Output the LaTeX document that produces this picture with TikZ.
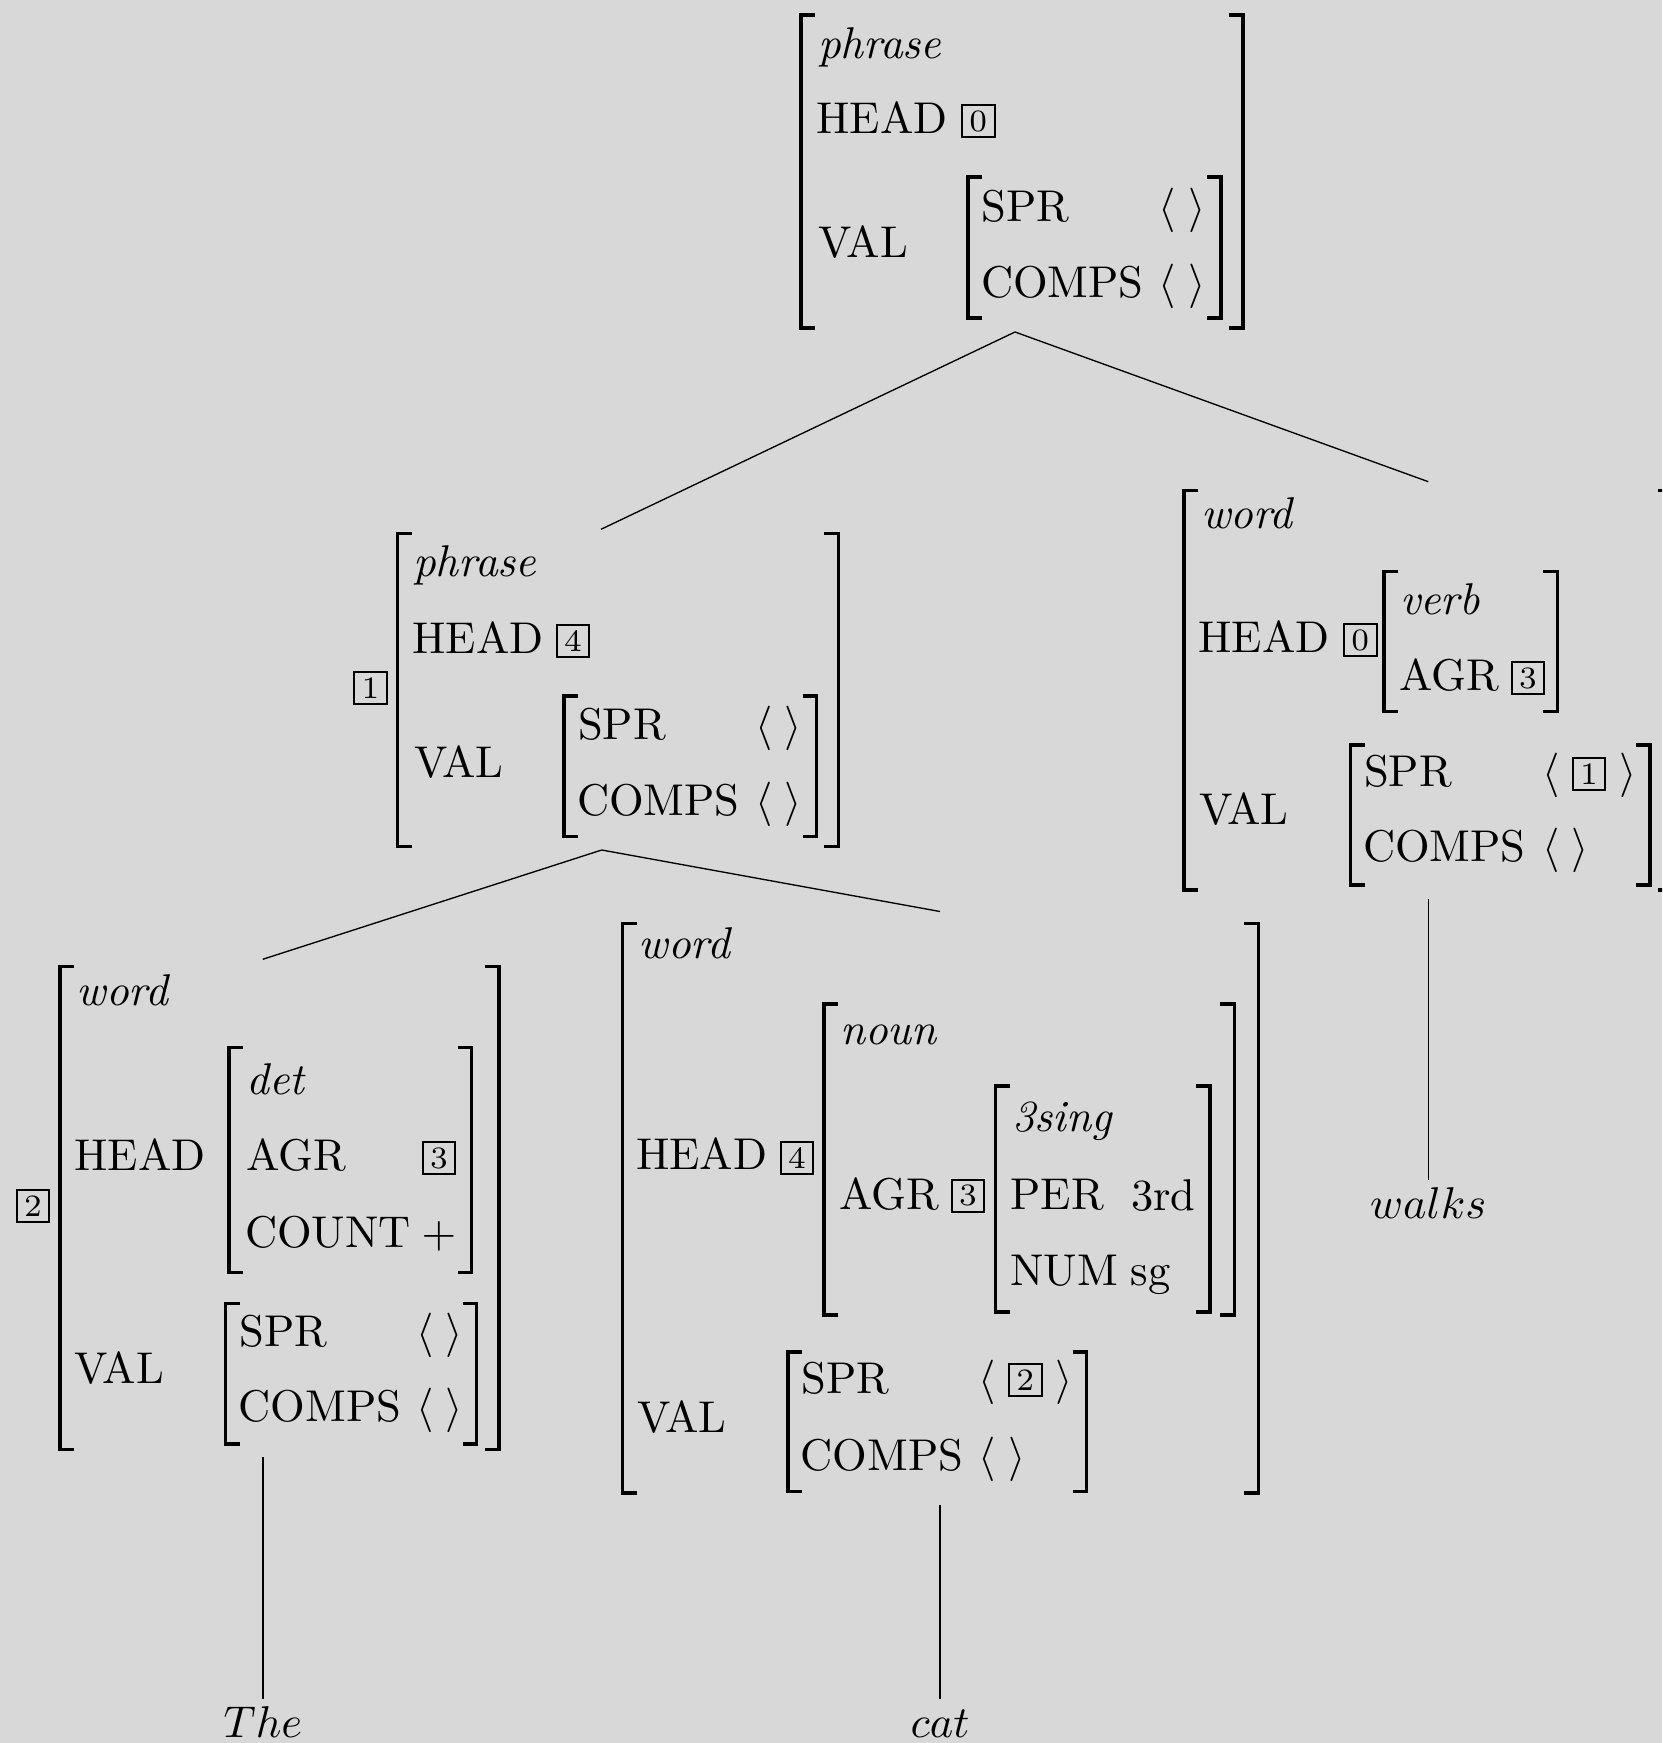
\documentclass[tikz,border=0pt]{standalone}
\usepackage{tikz}
\definecolor{bgc}{HTML}{D8D8D8}
\tikzset{
  txt/.style={anchor=base west, inner sep=0pt, outer sep=0pt, font=\normalsize},
  tagbox/.style={draw, line width=0.45pt, inner sep=0pt, outer sep=0pt, minimum width=7.3pt, minimum height=7.2pt, font=\scriptsize, anchor=south west},
  brk/.style={line width=0.78pt, line join=miter, line cap=butt},
  edge/.style={line width=0.3pt},
  leaf/.style={anchor=base, inner sep=1.4pt, text height=6.94pt}
}
\newcommand\avtext[4]{\node[txt] (#1) at (#2,#3) {#4};}
\newcommand\avtag[4]{\node[tagbox] (#1) at (#2,#3) {#4};}
\newcommand\lbrk[3]{\draw[brk] (#1+14,#2) -- (#1,#2) -- (#1,#3) -- (#1+14,#3);}
\newcommand\rbrk[3]{\draw[brk] (#1-14,#2) -- (#1,#2) -- (#1,#3) -- (#1-14,#3);}
\begin{document}
\begin{tikzpicture}[x=0.2247pt, y=-0.2247pt]
\path[use as bounding box] (0,0) rectangle (1662,1743);
\fill[bgc] (0,0) rectangle (1662,1743);
\clip (0,0) rectangle (1662,1743);

% ---- top AVM (phrase)
\lbrk{801}{15}{328} \rbrk{1243}{15}{328}
\avtext{T-type}{818}{59}{\textit{phrase}}
\avtext{T-head}{816.5}{134}{HEAD}
\avtag{T-b0}{962}{137}{0}
\avtext{T-val}{818.5}{258}{VAL}
\lbrk{968}{177}{318} \rbrk{1221}{177}{318}
\avtext{T-spr}{981.5}{222}{SPR}
\avtext{T-spr-v}{1158.7}{222}{$\langle\;\rangle$}
\avtext{T-comps}{981}{297}{COMPS}
\avtext{T-comps-v}{1158.7}{297}{$\langle\;\rangle$}

% ---- phrase AVM (The cat)
\avtag{P-tag}{354.3}{704}{1}
\lbrk{397.5}{533.3}{846.7} \rbrk{838.3}{533.3}{846.7}
\avtext{P-type}{413}{576}{\textit{phrase}}
\avtext{P-head}{412.5}{653.3}{HEAD}
\avtag{P-b4}{556.7}{656.7}{4}
\avtext{P-val}{414}{777.3}{VAL}
\lbrk{564}{696}{836.7} \rbrk{816.7}{696}{836.7}
\avtext{P-spr}{578}{739.3}{SPR}
\avtext{P-spr-v}{755.3}{739.3}{$\langle\;\rangle$}
\avtext{P-comps}{577}{815}{COMPS}
\avtext{P-comps-v}{755.3}{815}{$\langle\;\rangle$}

% ---- word AVM (walks)
\lbrk{1184}{490.7}{890} \rbrk{1672}{490.7}{890}
\avtext{W-type}{1201}{528.3}{\textit{word}}
\avtext{W-head}{1198.5}{652.7}{HEAD}
\avtag{W-b0}{1344}{656}{0}
\lbrk{1384}{571.7}{711.7} \rbrk{1557.3}{571.7}{711.7}
\avtext{W-verb}{1400}{614}{\textit{verb}}
\avtext{W-agr}{1399}{690}{AGR}
\avtag{W-b3}{1511.7}{694}{3}
\avtext{W-val}{1199}{824}{VAL}
\lbrk{1350.5}{745}{885} \rbrk{1650}{745}{885}
\avtext{W-spr}{1364}{786.7}{SPR}
\avtext{W-spr-l}{1542}{786.7}{$\langle$}
\avtag{W-b1}{1572.7}{790}{1}
\avtext{W-spr-r}{1619}{786.7}{$\rangle$}
\avtext{W-comps}{1363}{861.7}{COMPS}
\avtext{W-comps-v}{1542}{861.7}{$\langle\;\rangle$}

% ---- word AVM (The)
\avtag{D-tag}{16.7}{1221.7}{2}
\lbrk{60}{966.7}{1449.3} \rbrk{499}{966.7}{1449.3}
\avtext{D-type}{76.5}{1005}{\textit{word}}
\avtext{D-head}{74.5}{1170}{HEAD}
\lbrk{229}{1047.3}{1272.3} \rbrk{471.7}{1047.3}{1272.3}
\avtext{D-det}{246.5}{1094}{\textit{det}}
\avtext{D-agr}{246}{1170}{AGR}
\avtag{D-b3}{422.7}{1174.3}{3}
\avtext{D-count}{245}{1247.3}{COUNT}
\avtext{D-plus}{421.5}{1247.3}{$+$}
\avtext{D-val}{74.5}{1383.3}{VAL}
\lbrk{225.7}{1303.3}{1444} \rbrk{476.7}{1303.3}{1444}
\avtext{D-spr}{239.5}{1346.7}{SPR}
\avtext{D-spr-v}{416.3}{1346.7}{$\langle\;\rangle$}
\avtext{D-comps}{238.5}{1421.7}{COMPS}
\avtext{D-comps-v}{416.3}{1421.7}{$\langle\;\rangle$}

% ---- word AVM (cat)
\lbrk{622.5}{923.7}{1493.2} \rbrk{1258.3}{923.7}{1493.2}
\avtext{C-type}{638.5}{958.2}{\textit{word}}
\avtext{C-head}{636}{1169.8}{HEAD}
\avtag{C-b4}{780.7}{1174.4}{4}
\lbrk{824}{1004.1}{1315.2} \rbrk{1234.3}{1004.1}{1315.2}
\avtext{C-noun}{840}{1044.7}{\textit{noun}}
\avtext{C-agr}{839.5}{1209.2}{AGR}
\avtag{C-b3}{951.7}{1211.9}{3}
\lbrk{995.5}{1086}{1312} \rbrk{1210}{1086}{1312}
\avtext{C-3sing}{1012}{1131.5}{\textit{3sing}}
\avtext{C-per}{1010.5}{1209.5}{PER}
\avtext{C-per-v}{1131}{1210}{3rd}
\avtext{C-num}{1010.5}{1285}{NUM}
\avtext{C-num-v}{1130.5}{1285.5}{sg}
\avtext{C-val}{637}{1432}{VAL}
\lbrk{788}{1352}{1491.3} \rbrk{1086.7}{1352}{1491.3}
\avtext{C-spr}{801.5}{1393.7}{SPR}
\avtext{C-spr-l}{978.7}{1393.7}{$\langle$}
\avtag{C-b2}{1009}{1395.7}{2}
\avtext{C-spr-r}{1055}{1393.7}{$\rangle$}
\avtext{C-comps}{800.5}{1470.2}{COMPS}
\avtext{C-comps-v}{978.7}{1470.2}{$\langle\;\rangle$}

% ---- leaves
\node[leaf] (the) at (263,1737.3) {$The$};
\node[leaf] (cat) at (940,1737) {$cat$};
\node[leaf] (walks) at (1428.3,1218.3) {$walks$};

% ---- tree attachment points
\coordinate (T-s) at (1015,332);
\coordinate (P-n) at (601,529.3);
\coordinate (P-s) at (601.7,850);
\coordinate (W-n) at (1428.3,481.7);
\coordinate (W-s) at (1428.3,899);
\coordinate (D-n) at (262.7,959.3);
\coordinate (D-s) at (263,1457);
\coordinate (C-n) at (940,911.5);
\coordinate (C-s) at (940,1505);

\draw[edge] (T-s) -- (P-n);
\draw[edge] (T-s) -- (W-n);
\draw[edge] (P-s) -- (D-n);
\draw[edge] (P-s) -- (C-n);
\draw[edge] (D-s) -- (the.north);
\draw[edge] (C-s) -- (cat.north);
\draw[edge] (W-s) -- (walks.north);
\end{tikzpicture}
\end{document}
